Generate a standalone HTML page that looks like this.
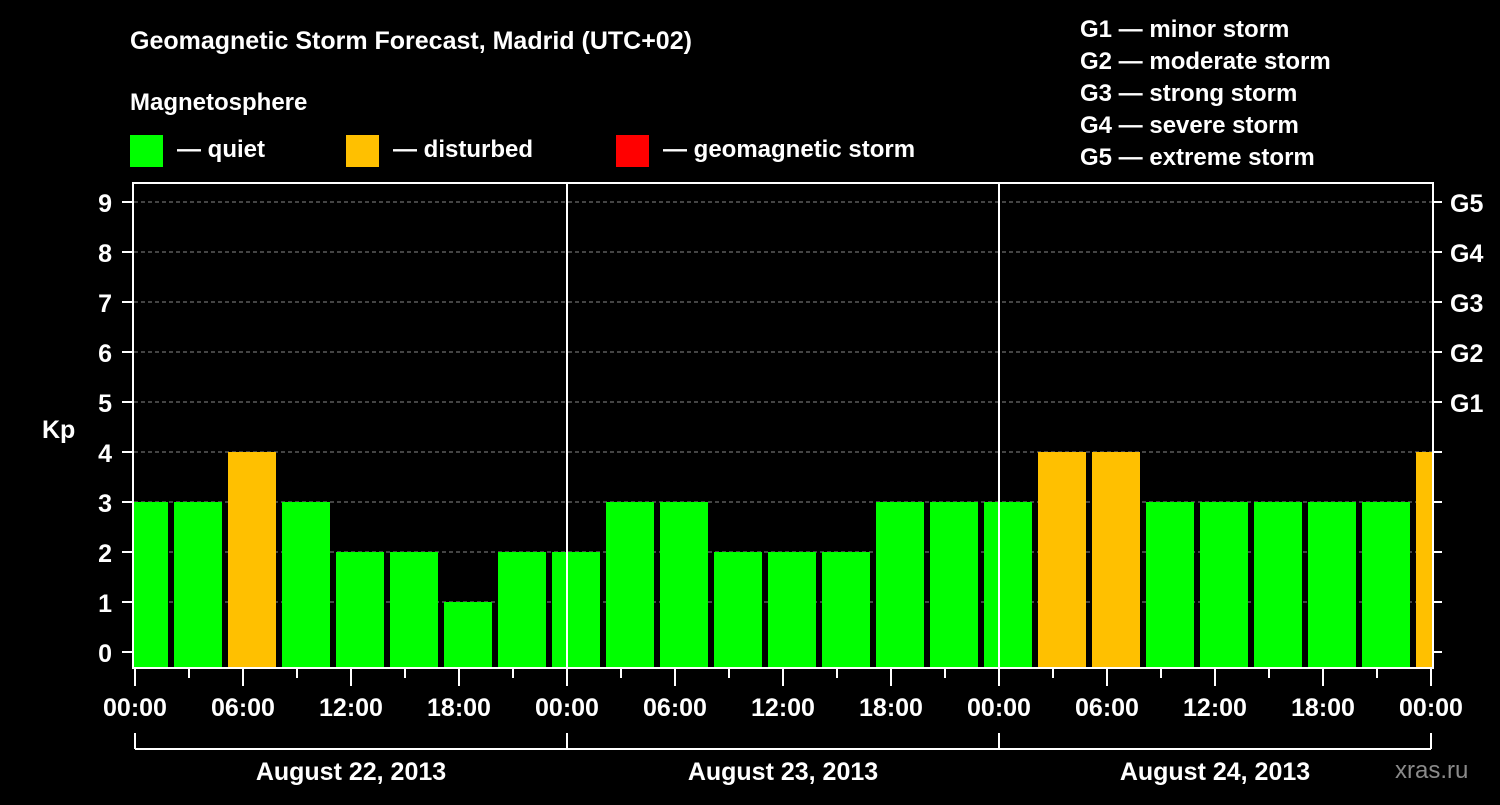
<!DOCTYPE html>
<html><head><meta charset="utf-8"><style>
body{margin:0;background:#000;width:1500px;height:800px;overflow:hidden}
svg text{font-family:"Liberation Sans",sans-serif;font-weight:bold;fill:#fff}
</style></head><body>
<svg id="c" width="1500" height="800">
<text x="130" y="49" font-size="25">Geomagnetic Storm Forecast, Madrid (UTC+02)</text>
<text x="130" y="110" font-size="24">Magnetosphere</text>
<g><rect x="130" y="135" width="33" height="32" fill="#00ff00"/><text x="177" y="157" font-size="24">— quiet</text></g>
<g><rect x="346" y="135" width="33" height="32" fill="#ffc000"/><text x="393" y="157" font-size="24">— disturbed</text></g>
<g><rect x="616" y="135" width="33" height="32" fill="#ff0000"/><text x="663" y="157" font-size="24">— geomagnetic storm</text></g>
<g font-size="24">
<text x="1080" y="37">G1 — minor storm</text><text x="1080" y="69">G2 — moderate storm</text><text x="1080" y="101">G3 — strong storm</text><text x="1080" y="133">G4 — severe storm</text><text x="1080" y="165">G5 — extreme storm</text></g>
<text x="42" y="438" font-size="25">Kp</text>
<text x="1395" y="778" font-size="24" fill="#888" style="fill:#8a8a8a;font-weight:normal">xras.ru</text>
<defs><clipPath id="pc"><rect x="134" y="183" width="1298" height="485"/></clipPath></defs>
<g id="grid"></g><g id="bars" clip-path="url(#pc)"></g><g id="axes"></g>
</svg>
<script>
const values=[3,3,4,3,2,2,1,2,2,3,3,2,2,2,3,3,3,4,4,3,3,3,3,3,4];
const yTicks=[0,1,2,3,4,5,6,7,8,9];
const gLabels=["G1","G2","G3","G4","G5"];
const gLevels=[5,6,7,8,9];
const xTickLabels=["00:00","06:00","12:00","18:00","00:00","06:00","12:00","18:00","00:00","06:00","12:00","18:00","00:00"];
const dayLabels=["August 22, 2013","August 23, 2013","August 24, 2013"];
const NS="http://www.w3.org/2000/svg";
const X=h=>135+18*h, Y=v=>652-50*v;
function mk(t,a,p){const e=document.createElementNS(NS,t);for(const k in a)e.setAttribute(k,a[k]);p.appendChild(e);return e;}
const grid=document.getElementById('grid'),bars=document.getElementById('bars'),axes=document.getElementById('axes');
values.forEach((v,i)=>{const c=X(3*i+0.5);
const r=mk('rect',{x:c-24,y:Y(v),width:48,height:668-Y(v),fill:v>=5?'#ff0000':v>=4?'#ffc000':'#00ff00'},bars);

});
yTicks.forEach(v=>{const y=Y(v);
if(v>0){const l=mk('line',{x1:134,x2:1432,y1:y,y2:y,stroke:'#888','stroke-dasharray':'4,3','stroke-width':1},grid);

}
mk('line',{x1:122,x2:133,y1:y,y2:y,stroke:'#fff','stroke-width':2},axes);
mk('line',{x1:1433,x2:1442,y1:y,y2:y,stroke:'#fff','stroke-width':2},axes);
const t=mk('text',{x:112,y:y+10,'font-size':25,'text-anchor':'end'},axes);t.textContent=v;

});
gLevels.forEach((v,i)=>{const t=mk('text',{x:1450,y:Y(v)+10,'font-size':25},axes);t.textContent=gLabels[i];

});
mk('rect',{x:133,y:183,width:1300,height:485,fill:'none',stroke:'#fff','stroke-width':2},axes);
[1,2].forEach(d=>mk('line',{x1:X(24*d),x2:X(24*d),y1:183,y2:668,stroke:'#fff','stroke-width':2},axes));
for(let h=0;h<=72;h+=3){const maj=h%6==0;mk('line',{x1:X(h),x2:X(h),y1:669,y2:maj?686:678,stroke:'#fff','stroke-width':2},axes);}
xTickLabels.forEach((s,i)=>{const t=mk('text',{x:X(6*i),y:716,'font-size':25,'text-anchor':'middle'},axes);t.textContent=s;

});
mk('line',{x1:X(0),x2:X(72),y1:749,y2:749,stroke:'#fff','stroke-width':2},axes);
for(let d=0;d<=3;d++)mk('line',{x1:X(24*d),x2:X(24*d),y1:733,y2:749,stroke:'#fff','stroke-width':2},axes);
dayLabels.forEach((s,i)=>{const t=mk('text',{x:X(24*i+12),y:780,'font-size':25,'text-anchor':'middle'},axes);t.textContent=s;

});
</script>
</body></html>
